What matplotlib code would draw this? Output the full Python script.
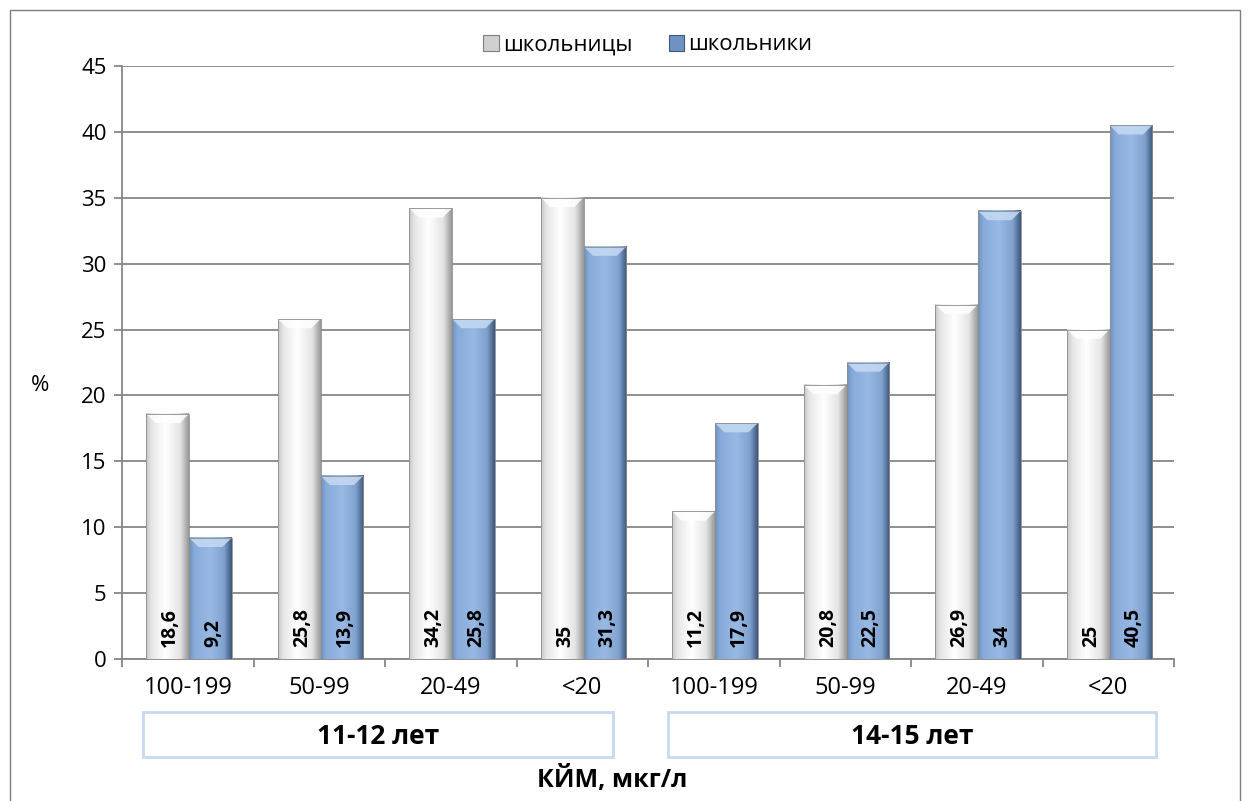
import matplotlib
matplotlib.use("Agg")
import matplotlib.pyplot as plt
from matplotlib.patches import Rectangle, Polygon, Patch
import numpy as np

plt.rcParams['font.family'] = ['Open Sans', 'DejaVu Sans']

categories = ["100-199", "50-99", "20-49", "<20", "100-199", "50-99", "20-49", "<20"]
girls = [18.6, 25.8, 34.2, 35, 11.2, 20.8, 26.9, 25]
boys = [9.2, 13.9, 25.8, 31.3, 17.9, 22.5, 34, 40.5]
series_names = ["школьницы", "школьники"]
groups = ["11-12 лет", "14-15 лет"]


def fmt(v):
    return ("%g" % v).replace(".", ",")


def shade_bar(ax, rect, stops, top_color):
    # fake the bevelled look of the original bars
    x, w, h = rect.get_x(), rect.get_width(), rect.get_height()
    xs = np.linspace(0, 1, 64)
    pos = [p for p, _ in stops]
    cols = np.array([matplotlib.colors.to_rgb(c) for _, c in stops])
    grad = np.stack([np.interp(xs, pos, cols[:, k]) for k in range(3)], axis=-1)
    ax.imshow(grad[np.newaxis, :, :], extent=(x, x + w, 0, h), aspect="auto",
              zorder=3, interpolation="bilinear")
    bh = min(0.7, h * 0.5)
    bw = w * 0.22
    ax.add_patch(Polygon([(x, h), (x + w, h), (x + w - bw, h - bh), (x + bw, h - bh)],
                         closed=True, facecolor=top_color, edgecolor="none",
                         alpha=0.85, zorder=4))
    ax.add_patch(Rectangle((x, 0), w, h, facecolor="none", edgecolor="#8c8c8c",
                           lw=0.6, zorder=5))


fig = plt.figure(figsize=(12.49, 8.01), dpi=100)
W, H = 1249, 801
ax = fig.add_axes([122 / W, 1 - 659 / H, (1174 - 122) / W, (659 - 66) / H])

x = np.arange(len(categories))
bw = 0.325
b1 = ax.bar(x - bw / 2 + 0.01, girls, bw, color="#f2f2f2", zorder=2)
b2 = ax.bar(x + bw / 2 + 0.01, boys, bw, color="#8db3e2", zorder=2)

white_stops = [(0, "#c8c8c8"), (0.12, "#e6e6e6"), (0.45, "#ffffff"), (0.8, "#e4e4e4"), (1, "#9a9a9a")]
blue_stops = [(0, "#6f93c0"), (0.12, "#88abda"), (0.5, "#98b9e4"), (0.82, "#7fa1cd"), (1, "#3d587c")]
for r in b1:
    shade_bar(ax, r, white_stops, "#ffffff")
for r in b2:
    shade_bar(ax, r, blue_stops, "#c5dbf3")

for bars, vals in ((b1, girls), (b2, boys)):
    for r, v in zip(bars, vals):
        ax.text(r.get_x() + r.get_width() / 2 + 0.02, 0.9, fmt(v), rotation=90,
                ha="center", va="bottom", fontsize=14, fontweight="bold", zorder=6)

ax.set_xlim(-0.5, len(categories) - 0.5)
ax.set_ylim(0, 45)
ax.set_yticks(np.arange(0, 46, 5))
ax.yaxis.grid(True, color="#868686", lw=1.3)
ax.set_axisbelow(True)
for s in ["top", "right"]:
    ax.spines[s].set_visible(False)
for s in ["left", "bottom"]:
    ax.spines[s].set_color("#868686")
    ax.spines[s].set_linewidth(1.3)

ax.set_xticks(np.arange(-0.5, len(categories)), labels=[""] * (len(categories) + 1))
ax.set_xticks(x, labels=categories, minor=True)
ax.tick_params(axis="x", which="major", length=6, color="#868686", width=1.3)
ax.tick_params(axis="x", which="minor", length=0, pad=12, labelsize=17)
ax.tick_params(axis="y", length=6, color="#868686", width=1.3, labelsize=16, pad=5)

fig.text(40 / W, 1 - 385 / H, "%", fontsize=16, ha="center", va="center")
fig.text(612 / W, 1 - 780 / H, "КЙМ, мкг/л", fontsize=18, fontweight="bold",
         ha="center", va="center")

boxes = [(143, 613), (668, 1156)]
for (l, r), g in zip(boxes, groups):
    fig.patches.append(Rectangle((l / W, 1 - 757 / H), (r - l) / W, 45 / H,
                                 transform=fig.transFigure, facecolor="white",
                                 edgecolor="#c6d9f1", lw=2))
    fig.text((l + r) / 2 / W, 1 - 736 / H, g, fontsize=19, fontweight="bold",
             ha="center", va="center")

fig.patches.append(Rectangle((10 / W, -0.01), 1230 / W, 1 - 10 / H + 0.01,
                             transform=fig.transFigure, facecolor="none",
                             edgecolor="#7f7f7f", lw=1))

handles = [Patch(facecolor="#d0d0d0", edgecolor="#7f7f7f", lw=0.8),
           Patch(facecolor="#6f93c0", edgecolor="#3d587c", lw=0.8)]
fig.legend(handles, series_names, loc="center", bbox_to_anchor=(648 / W, 1 - 45 / H),
           ncol=2, frameon=False, fontsize=16, handlelength=0.7, handleheight=0.7,
           handletextpad=0.2, columnspacing=1.6)

fig.savefig("out.png", dpi=100)
